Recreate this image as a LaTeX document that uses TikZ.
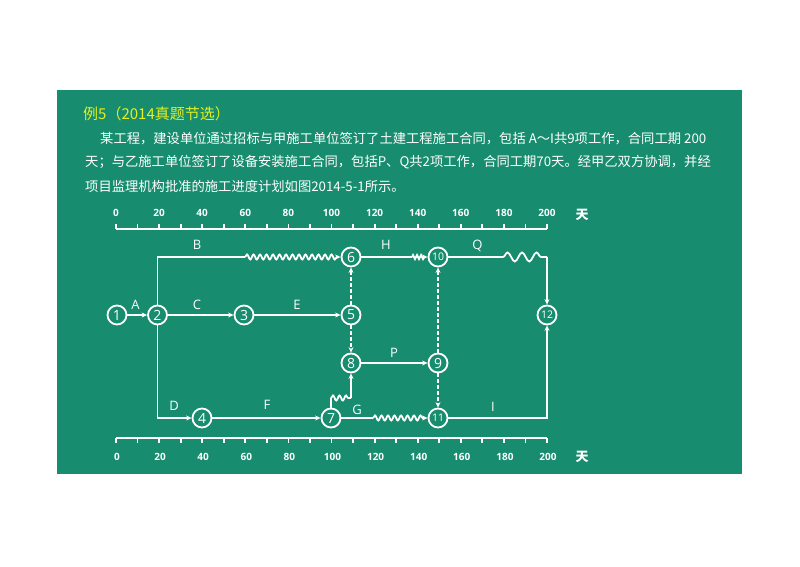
\documentclass[tikz,border=0pt]{standalone}
\usepackage{fontspec}
\setmainfont{Noto Sans CJK SC}
\newfontfamily\lat{Open Sans}
\usetikzlibrary{decorations.pathmorphing,arrows.meta}
\definecolor{bg}{HTML}{178C6E}
\definecolor{ttl}{HTML}{E4F020}
\begin{document}
\begin{tikzpicture}[x=1pt,y=-1pt,
 ln/.style={white,line width=1.8pt},
 arr/.style={ln,-{Stealth[length=5.5pt,width=5pt]}},
 dsh/.style={arr,dash pattern=on 3.5pt off 2.5pt},
 wv/.style={decorate,decoration={snake,amplitude=2.5pt,segment length=6.5pt,post length=3pt}},
 ev/.style={circle,draw=white,line width=1.8pt,minimum size=19pt,inner sep=0pt,font=\lat\fontsize{14}{14}\selectfont,text=white},
 evs/.style={ev,font=\lat\fontsize{10.5}{10.5}\selectfont},
 lbl/.style={text=white,font=\lat\fontsize{13}{13}\selectfont,inner sep=0pt},
 axn/.style={text=white,font=\lat\bfseries\fontsize{10}{10}\selectfont,inner sep=0pt},
 txt/.style={anchor=west,text=white,font=\fontsize{13.3}{13.3}\selectfont,inner sep=0pt},
]
\path[use as bounding box] (0,0) rectangle (800,566);
\fill[white] (0,0) rectangle (800,566);
\fill[bg] (57,90) rectangle (742,474);
% text
\node[anchor=west,text=ttl,font=\fontsize{15}{15}\selectfont,inner sep=0pt] (title) at (83,114) {例5（2014真题节选）};
\node[txt] (l1) at (100,138.5) {某工程，建设单位通过招标与甲施工单位签订了土建工程施工合同，包括 A～I共9项工作，合同工期 200};
\node[txt] (l2) at (85,162.5) {天；与乙施工单位签订了设备安装施工合同，包括P、Q共2项工作，合同工期70天。经甲乙双方协调，并经};
\node[txt] (l3) at (85,186) {项目监理机构批准的施工进度计划如图2014-5-1所示。};
% axes
\draw[ln] (116,229.3) -- (547,229.3);
\draw[ln] (116,438.3) -- (547,438.3);
\foreach \i in {0,...,20}{
  \draw[ln] (116+21.55*\i,229.3) -- ++(0,-5);
  \draw[ln] (116+21.55*\i,438.3) -- ++(0,5);
}
\foreach \t in {0,20,...,200}{
  \node[axn] at (116+2.155*\t,213) {\t};
  \node[axn] at (117+2.155*\t,457) {\t};
}
\node[text=white,font=\bfseries\fontsize{13}{13}\selectfont,inner sep=0pt] (d1) at (582,215) {天};
\node[text=white,font=\bfseries\fontsize{13}{13}\selectfont,inner sep=0pt] (d2) at (582,457) {天};
% events
\node[ev] (n1) at (117,315) {1};
\node[ev] (n2) at (157.5,315) {2};
\node[ev] (n3) at (244,315) {3};
\node[ev] (n5) at (351,315) {5};
\node[ev] (n6) at (351,257) {6};
\node[evs] (n10) at (438,257) {10};
\node[evs] (n12) at (547,315) {12};
\node[ev] (n8) at (351,363) {8};
\node[ev] (n9) at (438,363) {9};
\node[evs] (n11) at (438,418) {11};
\node[ev] (n4) at (202,418) {4};
\node[ev] (n7) at (331,418) {7};
% coordinates
\coordinate (b1) at (245,257);
\coordinate (h1) at (412,257);
\coordinate (q1) at (503,257);
\coordinate (q2) at (547,257);
\coordinate (g1) at (331,398);
\coordinate (g2) at (351,398);
\coordinate (gw) at (373,418);
% connectors
\draw[arr] (n1) -- (n2);
\draw[ln] (n2) |- (b1);
\draw[arr,wv] (b1) -- (n6);
\draw[arr] (n2) -- (n3);
\draw[arr] (n3) -- (n5);
\draw[dsh] (n5) -- (n6);
\draw[dsh] (n5) -- (n8);
\draw[ln] (n6) -- (h1);
\draw[arr,decorate,decoration={zigzag,amplitude=2pt,segment length=4pt,post length=3pt}] (h1) -- (n10);
\draw[ln] (n10) -- (q1);
\draw[ln,decorate,decoration={snake,amplitude=4.5pt,segment length=14.5pt}] (q1) -- (q2);
\draw[arr] (q2) -- (n12);
\draw[dsh] (n9) -- (n10);
\draw[dsh] (n9) -- (n11);
\draw[arr] (n8) -- (n9);
\draw[arr] (n2) |- (n4);
\draw[arr] (n4) -- (n7);
\draw[ln] (n7) -- (g1);
\draw[ln,decorate,decoration={snake,amplitude=2.5pt,segment length=6.5pt}] (g1) -- (g2);
\draw[arr] (g2) -- (n8);
\draw[ln] (n7) -- (gw);
\draw[arr,wv] (gw) -- (n11);
\draw[arr] (n11) -| (n12);
% labels
\node[lbl] (la) at (135.5,305) {A};
\node[lbl] (lb) at (197,245) {B};
\node[lbl] (lc) at (197,304.5) {C};
\node[lbl] (le) at (297,304.5) {E};
\node[lbl] (lh) at (386,245) {H};
\node[lbl] (lq) at (477.5,246) {Q};
\node[lbl] (lp) at (394,353) {P};
\node[lbl] (ld) at (174,405.5) {D};
\node[lbl] (lf) at (267,405) {F};
\node[lbl] (lg) at (357,410) {G};
\node[lbl] (li) at (493,407) {I};
\end{tikzpicture}
\end{document}
